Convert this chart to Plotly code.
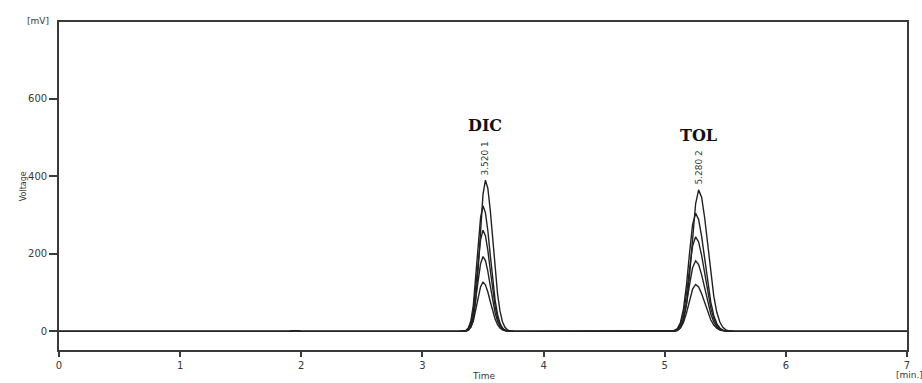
import plotly.graph_objects as go

# --- data ---
base_t = [0.0, 1.90, 1.95, 2.00, 3.30]
base_v = [0.0, 0.0, 2.0, 0.0, 0.0]

dic_t = [3.36, 3.38, 3.40, 3.42, 3.44, 3.46, 3.48, 3.50, 3.52, 3.54, 3.56,
         3.58, 3.60, 3.62, 3.64, 3.66, 3.68, 3.70, 3.72, 3.74, 3.76]
dic_1 = [0.8, 3.1, 11.3, 33.2, 80.3, 160.3, 262.9, 353.3, 390,
         368.9, 312.4, 236.7, 160.3, 97.1, 52.7, 25.7, 11.3, 4.3, 1.6, 0.5, 0.1]
dic_2 = [2.6, 9.4, 27.5, 66.7, 133.2, 218.4, 293.5, 324,
         306.5, 259.5, 196.7, 133.2, 80.7, 43.7, 21.4, 9.4, 3.6, 1.3, 0.4, 0.1, 0]
dic_3 = [2.1, 7.6, 22.2, 53.8, 107.3, 175.9, 236.5, 261,
         246.9, 209.1, 158.4, 107.3, 65.0, 35.2, 17.2, 7.6, 2.9, 1.0, 0.3, 0.1, 0]
dic_4 = [1.5, 5.6, 16.4, 39.8, 79.3, 130.1, 174.9, 193,
         182.6, 154.6, 117.2, 79.3, 48.1, 26.1, 12.7, 5.6, 2.1, 0.8, 0.2, 0.1, 0]
dic_5 = [1.0, 3.7, 10.8, 26.2, 52.2, 85.6, 115.1, 127,
         120.1, 101.7, 77.1, 52.2, 31.6, 17.1, 8.4, 3.7, 1.4, 0.5, 0.2, 0, 0]

mid_t = [3.82, 5.00]
mid_v = [0.0, 0.0]

tol_t = [5.080, 5.105, 5.130, 5.155, 5.180, 5.205, 5.230, 5.255, 5.280, 5.305,
         5.330, 5.355, 5.380, 5.405, 5.430, 5.455, 5.480, 5.505, 5.530, 5.555, 5.580]
tol_1 = [0.5, 2.3, 8.9, 27.6, 69.7, 144.2, 241.6, 329.2, 365,
         345.3, 292.4, 221.6, 150.0, 90.9, 49.3, 24.1, 10.6, 4.0, 1.5, 0.4, 0.1]
tol_2 = [1.9, 7.4, 23.0, 58.3, 120.5, 201.9, 275.1, 305,
         288.5, 244.3, 185.1, 125.4, 75.9, 41.2, 20.1, 8.8, 3.4, 1.2, 0.4, 0.1, 0]
tol_3 = [1.5, 5.9, 18.4, 46.6, 96.4, 161.5, 220.1, 244,
         230.8, 195.4, 148.1, 100.3, 60.8, 32.9, 16.1, 7.1, 2.7, 1.0, 0.3, 0.1, 0]
tol_4 = [1.1, 4.4, 13.7, 34.8, 71.9, 120.5, 164.2, 182,
         172.2, 145.8, 110.5, 74.8, 45.3, 24.6, 12.0, 5.3, 2.0, 0.7, 0.2, 0.1, 0]
tol_5 = [0.8, 2.9, 9.1, 23.1, 47.8, 80.1, 109.1, 121,
         114.5, 96.9, 73.4, 49.7, 30.1, 16.3, 8.0, 3.5, 1.3, 0.5, 0.1, 0, 0]

end_t = [5.64, 7.0]
end_v = [0.0, 0.0]

dic_series = [dic_1, dic_2, dic_3, dic_4, dic_5]
tol_series = [tol_1, tol_2, tol_3, tol_4, tol_5]

peak_names = ["DIC", "TOL"]
peak_rt = [3.520, 5.280]
peak_top = [390, 365]
peak_ids = ["1", "2"]

x_ticks = [0, 1, 2, 3, 4, 5, 6, 7]
y_ticks = [0, 200, 400, 600]

SANS = "DejaVu Sans"
TXT = "#3a3a3a"

fig = go.Figure()
for d, t in zip(dic_series, tol_series):
    xs = base_t + dic_t + mid_t + tol_t + end_t
    ys = base_v + d + mid_v + t + end_v
    fig.add_trace(go.Scatter(x=xs, y=ys, mode="lines",
                             line=dict(color="#222222", width=1.4),
                             showlegend=False, hoverinfo="skip"))

axis_common = dict(showgrid=False, zeroline=False, showline=True,
                   linecolor="#3a3a3a", linewidth=1.6, mirror=True,
                   ticks="outside", tickcolor="#3a3a3a", tickwidth=1.5,
                   tickfont=dict(family=SANS, size=10, color=TXT))

fig.update_xaxes(range=[0, 7], tickvals=x_ticks, ticklen=5, **axis_common)
fig.update_yaxes(range=[-48, 798], tickvals=y_ticks, ticklen=8, **axis_common)

ann = []
for name, rt, top, pid in zip(peak_names, peak_rt, peak_top, peak_ids):
    ann.append(dict(x=rt, y=top, xref="x", yref="y", text=f"{rt:.3f} {pid}",
                    textangle=-90, showarrow=False, yanchor="bottom", xanchor="center",
                    yshift=3, font=dict(family=SANS, size=9, color=TXT)))
    ann.append(dict(x=rt, y=top, xref="x", yref="y", text=f"<b>{name}</b>",
                    showarrow=False, yanchor="bottom", xanchor="center",
                    yshift=43, font=dict(family="DejaVu Serif", size=16, color="#111")))

ann += [
    dict(x=0, y=798, xref="x", yref="y", text="[mV]", showarrow=False,
         xanchor="right", yanchor="middle", xshift=-8, yshift=1,
         font=dict(family=SANS, size=9, color=TXT)),
    dict(x=7, y=0, xref="x", yref="paper", text="[min.]", showarrow=False,
         xanchor="center", yanchor="top", yshift=-18, xshift=2,
         font=dict(family=SANS, size=9, color=TXT)),
    dict(x=3.50, y=0, xref="x", yref="paper", text="Time", showarrow=False,
         xanchor="center", yanchor="top", yshift=-19,
         font=dict(family=SANS, size=9, color=TXT)),
    dict(x=0, y=400, xref="paper", yref="y", text="Voltage", showarrow=False,
         textangle=-90, xanchor="center", yanchor="middle", xshift=-36, yshift=-10,
         font=dict(family=SANS, size=8, color=TXT)),
]

fig.update_layout(width=922, height=383, margin=dict(l=59, r=14, t=22, b=27),
                  paper_bgcolor="white", plot_bgcolor="white", annotations=ann)

fig.write_html("out.html")
